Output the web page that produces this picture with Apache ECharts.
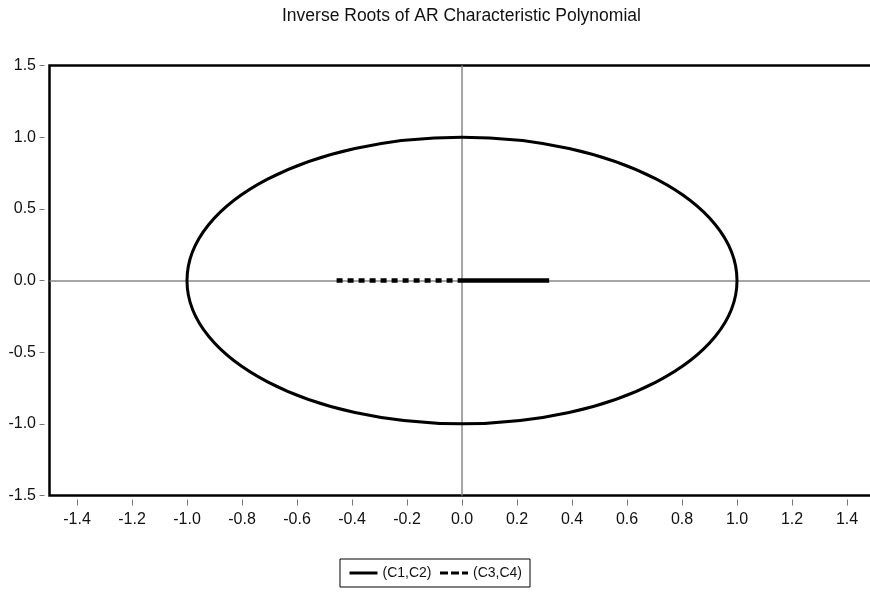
<!DOCTYPE html>
<html>
<head>
<meta charset="utf-8">
<script src="https://cdn.jsdelivr.net/npm/echarts@6/dist/echarts.min.js"></script>
<style>
html,body{margin:0;padding:0;background:#fff;}
#chart{width:870px;height:592px;}
</style>
</head>
<body>
<div id="chart"></div>
<script>
// ---- data ----
var titleText = 'Inverse Roots of AR Characteristic Polynomial';
var xTicks = [-1.4, -1.2, -1.0, -0.8, -0.6, -0.4, -0.2, 0.0, 0.2, 0.4, 0.6, 0.8, 1.0, 1.2, 1.4];
var yTicks = [-1.5, -1.0, -0.5, 0.0, 0.5, 1.0, 1.5];
var unitCircle = [[0, 0, 1]];            // centre x, centre y, radius
var seriesC1C2 = [[0, 0], [0.317, 0]];   // (C1,C2)
var seriesC3C4 = [[-0.456, 0], [0, 0]];  // (C3,C4)
var seriesNames = ['(C1,C2)', '(C3,C4)'];

var FONT = "'Liberation Sans', Arial, sans-serif";
var fmt = function (v) { return (Math.abs(v) < 1e-9 ? 0 : v).toFixed(1); };
var chart = echarts.init(document.getElementById('chart'), null, {renderer: 'canvas'});
chart.setOption({
  animation: false,
  backgroundColor: '#fff',
  title: {
    text: titleText, left: 277, top: 2,
    textStyle: {fontFamily: FONT, fontSize: 17.5, fontWeight: 'normal', color: '#111'}
  },
  grid: {
    left: 49.5, top: 65.5, width: 825, height: 430,
    outerBoundsMode: 'none', containLabel: false,
    show: true, borderColor: '#000', borderWidth: 2.5, backgroundColor: 'transparent'
  },
  xAxis: {
    type: 'value', min: -1.5, max: 1.5, offset: 4,
    axisLine: {show: false, onZero: false},
    splitLine: {show: false},
    axisTick: {show: true, length: 6, lineStyle: {color: '#777', width: 1}, customValues: xTicks},
    axisLabel: {margin: 12, fontFamily: FONT, fontSize: 16, color: '#111', customValues: xTicks, formatter: fmt}
  },
  yAxis: {
    type: 'value', min: -1.5, max: 1.5, interval: 0.5, offset: 5,
    axisLine: {show: false, onZero: false},
    splitLine: {show: false},
    axisTick: {show: true, length: 5, lineStyle: {color: '#777', width: 1}},
    axisLabel: {margin: 8.5, fontFamily: FONT, fontSize: 16, color: '#111', formatter: fmt}
  },
  legend: {
    data: [
      {name: seriesNames[0], lineStyle: {width: 3, type: 'solid', color: '#000'}, itemStyle: {color: 'rgba(0,0,0,0)', borderWidth: 0}},
      {name: seriesNames[1], lineStyle: {width: 3, type: [8, 3], color: '#000'}, itemStyle: {color: 'rgba(0,0,0,0)', borderWidth: 0}}
    ],
    left: 'center', top: 559,
    padding: [7, 8, 7, 8],
    itemWidth: 28, itemHeight: 14, itemGap: 7,
    borderColor: '#000', borderWidth: 1,
    textStyle: {fontFamily: FONT, fontSize: 14, color: '#111'}
  },
  series: [
    {
      name: 'zero', type: 'line', data: [], z: 1, silent: true,
      markLine: {
        silent: true, symbol: 'none', animation: false, z: 1,
        label: {show: false},
        lineStyle: {color: '#888', width: 1.5, type: 'solid'},
        data: [{xAxis: 0}, {yAxis: 0}]
      }
    },
    {
      name: 'unit circle', type: 'custom', z: 3, silent: true,
      data: unitCircle,
      renderItem: function (params, api) {
        var c = api.coord([api.value(0), api.value(1)]);
        var s = api.size([api.value(2), api.value(2)]);
        return {
          type: 'ellipse',
          shape: {cx: c[0], cy: c[1], rx: s[0], ry: s[1]},
          style: {fill: 'none', stroke: '#000', lineWidth: 3}
        };
      }
    },
    {
      name: seriesNames[0], type: 'line', data: seriesC1C2, z: 6,
      symbol: 'none', lineStyle: {color: '#000', width: 4.5, cap: 'butt'},
      itemStyle: {color: '#000'}
    },
    {
      name: seriesNames[1], type: 'line', data: seriesC3C4, z: 6,
      symbol: 'none', lineStyle: {color: '#000', width: 4.5, type: [6, 5], cap: 'butt'},
      itemStyle: {color: '#000'}
    }
  ]
});
</script>
</body>
</html>
